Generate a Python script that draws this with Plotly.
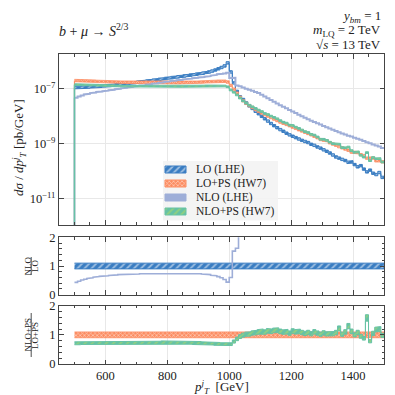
import numpy as np
import plotly.graph_objects as go

# bin edges in GeV (10 GeV bins)
edges = list(range(500, 1501, 10))

# d sigma / d pT^j in pb/GeV, one value per bin
lo = [
    1.08e-7, 1.09e-7, 1.10e-7, 1.12e-7, 1.13e-7, 1.15e-7, 1.17e-7, 1.19e-7, 1.21e-7, 1.23e-7,
    1.26e-7, 1.29e-7, 1.32e-7, 1.36e-7, 1.40e-7, 1.45e-7, 1.49e-7, 1.54e-7, 1.59e-7, 1.64e-7,
    1.70e-7, 1.75e-7, 1.81e-7, 1.87e-7, 1.93e-7, 2.00e-7, 2.07e-7, 2.15e-7, 2.23e-7, 2.31e-7,
    2.40e-7, 2.48e-7, 2.57e-7, 2.66e-7, 2.75e-7, 2.85e-7, 2.96e-7, 3.07e-7, 3.19e-7, 3.32e-7,
    3.45e-7, 3.60e-7, 3.78e-7, 4.00e-7, 4.30e-7, 4.70e-7, 5.20e-7, 5.80e-7, 6.60e-7, 8.50e-7,
    4.00e-7, 1.60e-7, 7.90e-8, 5.00e-8, 4.00e-8, 3.00e-8, 2.35e-8, 1.90e-8, 1.50e-8, 1.22e-8,
    9.8e-9, 8.0e-9, 6.6e-9, 5.4e-9, 4.5e-9, 3.8e-9, 3.24e-9, 2.82e-9, 2.4e-9, 2.09e-9,
    1.86e-9, 1.66e-9, 1.48e-9, 1.32e-9, 1.2e-9, 1.1e-9, 9.5e-10, 8.7e-10, 7.6e-10, 6.9e-10,
    6.0e-10, 5.3e-10, 4.6e-10, 3.9e-10, 3.3e-10, 3.0e-10, 2.7e-10, 2.45e-10, 2.1e-10, 2.2e-10,
    1.75e-10, 1.45e-10, 1.6e-10, 1.2e-10, 0.95e-10, 1.1e-10, 0.85e-10, 0.76e-10, 0.9e-10, 0.6e-10,
]
lo_ps = [
    1.95e-7, 1.93e-7, 1.92e-7, 1.90e-7, 1.88e-7, 1.86e-7, 1.84e-7, 1.82e-7, 1.80e-7, 1.79e-7,
    1.77e-7, 1.75e-7, 1.74e-7, 1.72e-7, 1.71e-7, 1.70e-7, 1.68e-7, 1.67e-7, 1.66e-7, 1.65e-7,
    1.64e-7, 1.63e-7, 1.62e-7, 1.62e-7, 1.61e-7, 1.61e-7, 1.60e-7, 1.60e-7, 1.60e-7, 1.60e-7,
    1.60e-7, 1.61e-7, 1.61e-7, 1.62e-7, 1.63e-7, 1.64e-7, 1.65e-7, 1.66e-7, 1.68e-7, 1.69e-7,
    1.71e-7, 1.73e-7, 1.75e-7, 1.77e-7, 1.80e-7, 1.82e-7, 1.84e-7, 1.86e-7, 1.84e-7, 1.72e-7,
    1.30e-7, 9.5e-8, 6.8e-8, 4.8e-8, 3.6e-8, 2.9e-8, 2.4e-8, 2.05e-8, 1.75e-8, 1.50e-8,
    1.30e-8, 1.13e-8, 1.00e-8, 8.9e-9, 7.8e-9, 6.9e-9, 6.1e-9, 5.5e-9, 5.0e-9, 4.5e-9,
    4.0e-9, 3.6e-9, 3.2e-9, 2.9e-9, 2.6e-9, 2.35e-9, 2.1e-9, 1.85e-9, 1.65e-9, 1.42e-9,
    1.35e-9, 1.28e-9, 1.08e-9, 9.7e-10, 8.8e-10, 7.8e-10, 7.1e-10, 6.4e-10, 5.8e-10, 5.0e-10,
    4.8e-10, 4.7e-10, 4.0e-10, 3.7e-10, 3.0e-10, 3.1e-10, 3.0e-10, 2.4e-10, 2.4e-10, 2.2e-10,
]
nlo = [
    4.64e-8, 5.12e-8, 5.61e-8, 6.05e-8, 6.44e-8, 6.79e-8, 7.14e-8, 7.50e-8, 7.74e-8, 8.00e-8,
    8.32e-8, 8.64e-8, 8.98e-8, 9.38e-8, 9.80e-8, 1.015e-7, 1.058e-7, 1.093e-7, 1.145e-7, 1.181e-7,
    1.224e-7, 1.278e-7, 1.321e-7, 1.365e-7, 1.428e-7, 1.48e-7, 1.532e-7, 1.591e-7, 1.673e-7, 1.733e-7,
    1.80e-7, 1.86e-7, 1.928e-7, 1.995e-7, 2.063e-7, 2.138e-7, 2.19e-7, 2.272e-7, 2.361e-7, 2.424e-7,
    2.519e-7, 2.592e-7, 2.684e-7, 2.80e-7, 2.924e-7, 3.102e-7, 3.276e-7, 3.422e-7, 3.498e-7, 3.74e-7,
    2.40e-7, 2.43e-7, 1.28e-7, 1.20e-7, 1.08e-7, 9.8e-8, 9.0e-8, 8.2e-8, 7.5e-8, 6.8e-8,
    5.9e-8, 5.1e-8, 4.4e-8, 3.8e-8, 3.3e-8, 2.85e-8, 2.48e-8, 2.16e-8, 1.9e-8, 1.66e-8,
    1.45e-8, 1.28e-8, 1.12e-8, 9.8e-9, 8.6e-9, 7.6e-9, 6.8e-9, 6.1e-9, 5.5e-9, 4.9e-9,
    4.4e-9, 3.95e-9, 3.55e-9, 3.2e-9, 2.9e-9, 2.6e-9, 2.35e-9, 2.15e-9, 1.95e-9, 1.8e-9,
    1.65e-9, 1.5e-9, 1.38e-9, 1.25e-9, 1.13e-9, 1.03e-9, 9.4e-10, 8.6e-10, 7.8e-10, 7.0e-10,
]
nlo_ps = [
    1.385e-7, 1.370e-7, 1.382e-7, 1.368e-7, 1.354e-7, 1.339e-7, 1.325e-7, 1.310e-7, 1.296e-7, 1.289e-7,
    1.274e-7, 1.260e-7, 1.253e-7, 1.238e-7, 1.231e-7, 1.224e-7, 1.210e-7, 1.202e-7, 1.195e-7, 1.188e-7,
    1.181e-7, 1.174e-7, 1.166e-7, 1.166e-7, 1.159e-7, 1.159e-7, 1.168e-7, 1.168e-7, 1.184e-7, 1.184e-7,
    1.184e-7, 1.191e-7, 1.191e-7, 1.199e-7, 1.190e-7, 1.197e-7, 1.205e-7, 1.212e-7, 1.210e-7, 1.217e-7,
    1.231e-7, 1.228e-7, 1.243e-7, 1.239e-7, 1.260e-7, 1.256e-7, 1.270e-7, 1.265e-7, 1.233e-7, 1.152e-7,
    8.84e-8, 7.32e-8, 5.85e-8, 4.51e-8, 3.56e-8, 2.96e-8, 2.47e-8, 2.17e-8, 1.89e-8, 1.65e-8,
    1.46e-8, 1.24e-8, 1.14e-8, 9.97e-9, 8.97e-9, 8.00e-9, 6.83e-9, 6.00e-9, 5.55e-9, 4.77e-9,
    4.52e-9, 3.96e-9, 3.58e-9, 3.13e-9, 2.73e-9, 2.54e-9, 2.18e-9, 2.04e-9, 1.75e-9, 1.45e-9,
    1.44e-9, 1.32e-9, 1.13e-9, 1.01e-9, 9.50e-10, 9.52e-10, 7.24e-10, 7.04e-10, 7.54e-10, 5.60e-10,
    4.80e-10, 5.08e-10, 3.80e-10, 3.26e-10, 4.74e-10, 2.42e-10, 3.15e-10, 2.83e-10, 2.88e-10, 2.16e-10,
]

# relative uncertainty bands
lo_unc = 0.10
lo_ps_unc = 0.10
nlo_ps_unc = 0.07

labels = ["LO (LHE)", "LO+PS (HW7)", "NLO (LHE)", "NLO+PS (HW7)"]

c_lo = "#3a7dc2"
c_lops = "#fc8d62"
c_nlo = "#9eaed8"
c_nlops = "#66c2a5"
c_nlops_hatch = "#b8dd5c"
c_axis = "#444444"
font_family = "Liberation Serif"

lo = np.array(lo)
lo_ps = np.array(lo_ps)
nlo = np.array(nlo)
nlo_ps = np.array(nlo_ps)

# plot area in pixels (used to place texts in paper coordinates)
L, R, T, B = 51, 376, 46, 356


def px(x):
    return (x - L) / (R - L)


def py(y):
    return (B - y) / (B - T)


def step_xy(e, v):
    e = np.asarray(e, float)
    v = np.asarray(v, float)
    return np.repeat(e, 2)[1:-1], np.repeat(v, 2)


def band_xy(e, low, high):
    x, yh = step_xy(e, high)
    _, yl = step_xy(e, low)
    return np.concatenate([x, x[::-1]]), np.concatenate([yh, yl[::-1]])


pat_lo = dict(shape="/", fgcolor="white", bgcolor=c_lo, size=5, solidity=0.35)
pat_lops = dict(shape="x", fgcolor="white", bgcolor=c_lops, size=3, solidity=0.45)
pat_nlops = dict(shape="/", fgcolor=c_nlops_hatch, bgcolor=c_nlops, size=5, solidity=0.4)

fig = go.Figure()


def add_band(xa, ya, low, high, line_color, fillcolor, pattern, width=1):
    bx, by = band_xy(edges, low, high)
    fig.add_trace(go.Scatter(x=bx, y=by, xaxis=xa, yaxis=ya, mode="lines", fill="toself",
                             fillcolor=fillcolor, fillpattern=pattern,
                             line=dict(color=line_color, width=width), hoverinfo="skip"))


def add_step(xa, ya, vals, color, width):
    sx, sy = step_xy(edges, vals)
    fig.add_trace(go.Scatter(x=sx, y=sy, xaxis=xa, yaxis=ya, mode="lines",
                             line=dict(color=color, width=width), hoverinfo="skip"))


def add_first_edge(vals, color, width):
    fig.add_trace(go.Scatter(x=[edges[0], edges[0]], y=[1e-14, vals[0]], xaxis="x", yaxis="y",
                             mode="lines", line=dict(color=color, width=width), hoverinfo="skip"))


# main panel
add_first_edge(lo, c_lo, 1.2)
add_band("x", "y", lo * (1 - lo_unc), lo * (1 + lo_unc), c_lo, c_lo, pat_lo)
add_first_edge(lo_ps, c_lops, 1.2)
add_band("x", "y", lo_ps * (1 - lo_ps_unc), lo_ps * (1 + lo_ps_unc), c_lops, c_lops, pat_lops, 0.8)
add_first_edge(nlo, c_nlo, 1.5)
add_step("x", "y", nlo, c_nlo, 2)
add_first_edge(nlo_ps, c_nlops, 1.5)
add_band("x", "y", nlo_ps * (1 - nlo_ps_unc), nlo_ps * (1 + nlo_ps_unc), c_nlops, c_nlops, pat_nlops)

# ratio NLO / LO
ones = np.ones_like(lo)
add_band("x2", "y2", ones - lo_unc, ones + lo_unc, c_lo, c_lo, pat_lo)
add_step("x2", "y2", nlo / lo, c_nlo, 1.6)

# ratio NLO+PS / LO+PS
r2 = nlo_ps / lo_ps
add_band("x3", "y3", ones - lo_ps_unc, ones + lo_ps_unc, c_lops, c_lops, pat_lops, 0.8)
add_band("x3", "y3", r2 * (1 - nlo_ps_unc), r2 * (1 + nlo_ps_unc), c_nlops, c_nlops, pat_nlops)

# legend drawn on a pixel overlay axis
fig.add_trace(go.Scatter(x=[155, 270, 270, 155], y=[153, 153, 212.5, 212.5], xaxis="x4", yaxis="y4",
                         mode="lines", fill="toself", fillcolor="rgba(243,243,243,0.88)",
                         line=dict(width=0), hoverinfo="skip"))
leg_y = [161.5, 175.5, 189.5, 203.5]
leg_style = [
    (c_lo, c_lo, pat_lo),
    (c_lops, c_lops, pat_lops),
    (c_nlo, c_nlo, None),
    (c_nlops, c_nlops, pat_nlops),
]
annotations = []
for yc, (lc, fc, pat), lab in zip(leg_y, leg_style, labels):
    kw = dict(fillpattern=pat) if pat else {}
    fig.add_trace(go.Scatter(x=[157, 178, 178, 157, 157], y=[yc - 3.5, yc - 3.5, yc + 3.5, yc + 3.5, yc - 3.5],
                             xaxis="x4", yaxis="y4", mode="lines", fill="toself", fillcolor=fc,
                             line=dict(color=lc, width=1), hoverinfo="skip", **kw))
    annotations.append(dict(x=px(186), y=py(yc), text=lab, xanchor="left", font=dict(size=11.5)))

# header texts, axis titles and ratio labels (pixel positions -> paper)
annotations += [
    dict(x=px(49), y=py(22), text="<i>b</i> + <i>μ</i> → <i>S</i><sup>2/3</sup>", xanchor="left",
         font=dict(size=14)),
    dict(x=px(375), y=py(9), text="<i>y<sub>bm</sub></i> = 1", xanchor="right", font=dict(size=13)),
    dict(x=px(375), y=py(22.5), text="<i>m</i><sub>LQ</sub> = 2 TeV", xanchor="right", font=dict(size=13)),
    dict(x=px(375), y=py(36.5), text="√<i>s</i> = 13 TeV", xanchor="right", font=dict(size=13)),
    dict(x=px(11), y=py(140), text="<i>dσ</i> / <i>dp</i><sup><i>j</i></sup><sub><i>T</i></sub> [pb/GeV]",
         textangle=-90, font=dict(size=13)),
    dict(x=px(213), y=py(379), text="<i>p</i><sup><i>j</i></sup><sub><i>T</i></sub>  [GeV]",
         font=dict(size=13)),
    dict(x=px(19.5), y=py(258), text="NLO", textangle=-90, font=dict(size=9)),
    dict(x=px(27), y=py(258), text="LO", textangle=-90, font=dict(size=9)),
    dict(x=px(19.5), y=py(327), text="NLO+PS", textangle=-90, font=dict(size=9)),
    dict(x=px(27), y=py(327), text="LO+PS", textangle=-90, font=dict(size=9)),
]
for a in annotations:
    a.setdefault("xref", "paper")
    a.setdefault("yref", "paper")
    a.setdefault("showarrow", False)
    a.setdefault("yanchor", "middle")
    a.setdefault("xanchor", "center")
    a.setdefault("font", dict(size=12.5))

shapes = [
    dict(type="line", xref="paper", yref="paper", x0=px(23.2), x1=px(23.2), y0=py(249), y1=py(267),
         line=dict(color="#222", width=0.8)),
    dict(type="line", xref="paper", yref="paper", x0=px(23.2), x1=px(23.2), y0=py(305), y1=py(349),
         line=dict(color="#222", width=0.8)),
]

ax_common = dict(showline=True, linecolor=c_axis, linewidth=1, mirror="allticks", ticks="inside",
                 ticklen=4.5, tickcolor=c_axis, zeroline=False, gridcolor="#e8e8e8", gridwidth=1,
                 tickfont=dict(size=12.5))
x_common = dict(ax_common, range=[450, 1500], tickmode="linear", tick0=400, dtick=200, showgrid=True,
                minor=dict(dtick=50, tick0=0, ticks="inside", ticklen=2.5, tickcolor=c_axis, showgrid=False))
y_ratio = dict(ax_common, range=[0, 2], tickmode="array", tickvals=[0, 1, 2], showgrid=False,
               minor=dict(dtick=0.2, tick0=0, ticks="inside", ticklen=2.5, tickcolor=c_axis, showgrid=False))

fig.update_layout(
    width=395, height=395,
    margin=dict(l=L, r=395 - R, t=T, b=395 - B),
    paper_bgcolor="white", plot_bgcolor="rgba(0,0,0,0)",
    showlegend=False,
    font=dict(family=font_family, size=12, color="#222222"),
    xaxis=dict(x_common, anchor="y", showticklabels=False),
    xaxis2=dict(x_common, anchor="y2", matches="x", showticklabels=False),
    xaxis3=dict(x_common, anchor="y3", matches="x", showticklabels=True),
    yaxis=dict(ax_common, type="log", domain=[0.4484, 1], range=[-11.95, -5.75], showgrid=True,
               tickmode="array", tickvals=[1e-11, 1e-9, 1e-7],
               ticktext=["10<sup>−11</sup>", "10<sup>−9</sup>", "10<sup>−7</sup>"]),
    yaxis2=dict(y_ratio, domain=[0.2235, 0.4087], anchor="x2"),
    yaxis3=dict(y_ratio, domain=[0, 0.1881], anchor="x3"),
    xaxis4=dict(domain=[0, 1], range=[L, R], visible=False, anchor="y4", fixedrange=True),
    yaxis4=dict(domain=[0, 1], range=[B, T], visible=False, anchor="x4", fixedrange=True),
    annotations=annotations,
    shapes=shapes,
)

fig.write_html("out.html")
